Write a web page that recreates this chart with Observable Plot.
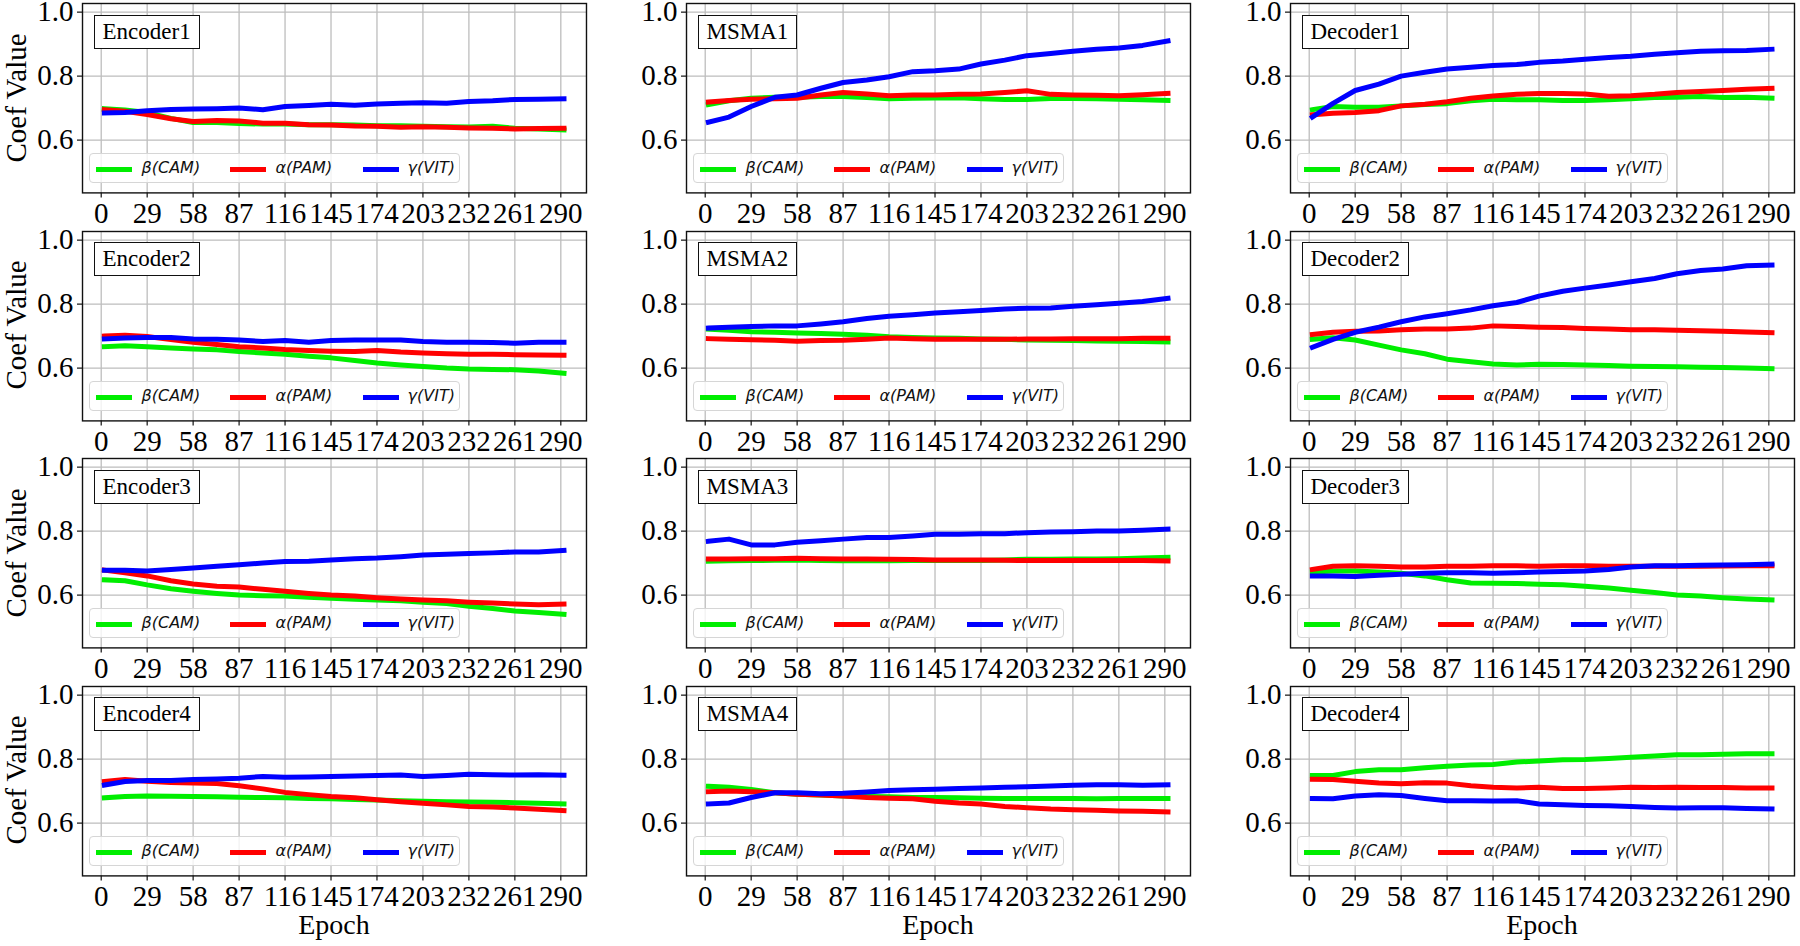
<!DOCTYPE html>
<html>
<head>
<meta charset="utf-8">
<script src="https://cdn.jsdelivr.net/npm/d3@7"></script>
<script src="https://cdn.jsdelivr.net/npm/@observablehq/plot@0.6"></script>
<style>
  html, body { margin: 0; padding: 0; background: #fff; }
  #root { position: relative; width: 1800px; height: 946px; overflow: hidden; background: #fff; }
  .panel { position: absolute; }
  .panel svg { overflow: visible; background: transparent; max-width: none; }
  .panel svg text { font-family: "Liberation Serif", "Times New Roman", serif; }
  .title-box { position: absolute; background: #fff; border: 1.3px solid #111; font-family: "Liberation Serif", "Times New Roman", serif; font-size: 23px; line-height: 28px; padding: 2px 8px; color: #000; white-space: nowrap; }
  .legend-box { position: absolute; height: 30px; width: 371px; box-sizing: border-box; background: rgba(255,255,255,0.8); border: 1px solid #d6d6d6; border-radius: 4px; }
  .sw { position: absolute; height: 5px; width: 36px; top: 13px; }
  .lt { position: absolute; top: 3px; font-family: "DejaVu Sans", sans-serif; font-style: italic; font-size: 16px; line-height: 22px; color: #111; white-space: nowrap; }
  .ylab { position: absolute; font-family: "Liberation Serif", "Times New Roman", serif; font-size: 29px; line-height: 29px; white-space: nowrap; transform: translate(-50%, -50%) rotate(-90deg); color: #000; }
  .xlab { position: absolute; font-family: "Liberation Serif", "Times New Roman", serif; font-size: 28px; line-height: 28px; white-space: nowrap; transform: translateX(-50%); color: #000; }
</style>
</head>
<body>
<div id="root"></div>
<script>
// ---- data ----
const epochs = [2, 15, 29, 44, 58, 73, 87, 102, 116, 131, 145, 160, 174, 189, 203, 218, 232, 247, 261, 276, 292];
const xTicks = [0, 29, 58, 87, 116, 145, 174, 203, 232, 261, 290];
const yTicks = [0.6, 0.8, 1.0];
const panelNames = ["Encoder1", "MSMA1", "Decoder1", "Encoder2", "MSMA2", "Decoder2", "Encoder3", "MSMA3", "Decoder3", "Encoder4", "MSMA4", "Decoder4"];
const seriesNames = ["β(CAM)", "α(PAM)", "γ(VIT)"];
const seriesColors = ["#00ee00", "#ff0000", "#0000ff"];

const encoder1Beta  = [.698,.694,.686,.668,.655,.655,.652,.650,.650,.648,.648,.647,.645,.645,.643,.642,.641,.643,.637,.635,.632];
const encoder1Alpha = [.695,.690,.680,.667,.658,.661,.660,.653,.653,.648,.647,.644,.643,.640,.642,.640,.638,.637,.635,.636,.637];
const encoder1Gamma = [.685,.686,.692,.696,.697,.698,.700,.695,.705,.708,.712,.709,.713,.715,.717,.715,.721,.723,.727,.728,.729];

const msma1Beta  = [.711,.723,.731,.734,.734,.736,.736,.733,.729,.731,.732,.732,.729,.727,.727,.730,.730,.729,.728,.726,.724];
const msma1Alpha = [.719,.724,.728,.729,.731,.741,.749,.744,.739,.741,.741,.743,.744,.749,.754,.743,.741,.740,.739,.742,.746];
const msma1Gamma = [.656,.672,.705,.734,.741,.762,.780,.788,.798,.814,.817,.822,.838,.850,.864,.871,.878,.884,.888,.896,.910];

const decoder1Beta  = [.695,.705,.703,.703,.707,.711,.714,.723,.728,.726,.726,.724,.724,.726,.729,.733,.734,.736,.733,.734,.731];
const decoder1Alpha = [.679,.684,.686,.692,.707,.712,.720,.731,.738,.743,.746,.746,.744,.737,.739,.743,.749,.752,.755,.759,.762];
const decoder1Gamma = [.672,.715,.755,.775,.800,.812,.822,.828,.833,.836,.843,.847,.853,.858,.862,.868,.873,.878,.879,.880,.884];

const encoder2Beta  = [.667,.670,.667,.663,.660,.657,.652,.647,.643,.637,.632,.624,.616,.610,.605,.600,.597,.596,.595,.591,.584];
const encoder2Alpha = [.700,.703,.699,.689,.681,.674,.667,.663,.658,.655,.653,.652,.655,.650,.647,.645,.643,.643,.642,.641,.640];
const encoder2Gamma = [.691,.694,.696,.696,.691,.690,.688,.683,.686,.681,.686,.688,.688,.688,.683,.681,.681,.680,.678,.681,.681];

const msma2Beta  = [.722,.718,.714,.712,.710,.708,.706,.703,.698,.696,.694,.693,.691,.690,.688,.687,.686,.685,.684,.683,.682];
const msma2Alpha = [.692,.690,.689,.687,.684,.686,.687,.690,.694,.692,.690,.690,.690,.690,.691,.691,.692,.692,.692,.693,.693];
const msma2Gamma = [.725,.728,.730,.732,.732,.738,.745,.755,.762,.767,.772,.776,.780,.785,.787,.788,.793,.798,.803,.808,.818];

const decoder2Beta  = [.690,.695,.688,.672,.657,.645,.628,.620,.613,.610,.612,.611,.610,.608,.606,.605,.604,.603,.602,.600,.598];
const decoder2Alpha = [.705,.712,.715,.716,.720,.722,.722,.725,.732,.730,.728,.727,.724,.722,.720,.720,.718,.717,.715,.713,.711];
const decoder2Gamma = [.665,.690,.712,.728,.745,.760,.770,.782,.795,.805,.825,.840,.850,.860,.870,.880,.895,.905,.910,.920,.922];

const encoder3Beta  = [.648,.645,.632,.620,.612,.605,.600,.598,.597,.593,.590,.587,.585,.582,.578,.574,.565,.558,.550,.546,.540];
const encoder3Alpha = [.678,.670,.660,.645,.635,.628,.625,.618,.612,.605,.600,.597,.592,.588,.585,.582,.578,.575,.572,.570,.572];
const encoder3Gamma = [.678,.678,.675,.680,.685,.690,.695,.700,.705,.706,.710,.714,.716,.720,.725,.728,.730,.732,.735,.735,.740];

const msma3Beta  = [.706,.707,.708,.709,.710,.708,.707,.707,.707,.708,.708,.708,.708,.710,.712,.712,.713,.713,.714,.716,.718];
const msma3Alpha = [.713,.713,.714,.714,.715,.714,.713,.713,.712,.711,.710,.710,.710,.709,.708,.708,.708,.708,.708,.708,.707];
const msma3Gamma = [.768,.775,.757,.757,.765,.770,.775,.780,.780,.785,.790,.790,.792,.792,.795,.797,.798,.800,.800,.803,.806];

const decoder3Beta  = [.672,.675,.675,.672,.668,.660,.648,.638,.637,.636,.634,.632,.628,.622,.615,.608,.600,.597,.592,.588,.585];
const decoder3Alpha = [.680,.690,.692,.690,.688,.688,.690,.690,.692,.692,.690,.692,.692,.690,.690,.690,.690,.690,.691,.692,.692];
const decoder3Gamma = [.660,.660,.658,.662,.665,.668,.670,.670,.668,.670,.672,.674,.675,.680,.688,.692,.692,.693,.694,.695,.697];

const encoder4Beta  = [.679,.683,.685,.684,.683,.682,.681,.680,.679,.677,.676,.674,.672,.670,.668,.667,.666,.665,.664,.662,.660];
const encoder4Alpha = [.730,.736,.731,.727,.725,.724,.717,.707,.696,.689,.683,.679,.673,.667,.662,.657,.652,.650,.647,.643,.639];
const encoder4Gamma = [.719,.730,.733,.733,.736,.738,.740,.746,.743,.744,.746,.747,.749,.750,.746,.749,.753,.751,.750,.751,.750];

const msma4Beta  = [.715,.712,.705,.695,.690,.688,.685,.683,.682,.680,.680,.679,.678,.677,.677,.677,.677,.676,.677,.677,.677];
const msma4Alpha = [.698,.700,.698,.695,.690,.688,.685,.680,.678,.676,.668,.663,.660,.652,.648,.644,.642,.640,.638,.637,.635];
const msma4Gamma = [.660,.663,.680,.695,.695,.692,.693,.697,.702,.704,.706,.708,.710,.712,.714,.716,.718,.720,.720,.718,.720];

const decoder4Beta  = [.749,.749,.761,.767,.767,.773,.778,.782,.783,.791,.794,.798,.799,.802,.806,.810,.814,.814,.815,.817,.817];
const decoder4Alpha = [.737,.736,.731,.725,.723,.726,.725,.717,.712,.710,.712,.708,.708,.710,.712,.711,.712,.711,.711,.710,.710];
const decoder4Gamma = [.677,.676,.685,.689,.686,.677,.670,.670,.669,.670,.660,.657,.655,.654,.652,.649,.647,.648,.648,.646,.644];

const panelSeries = [
  [encoder1Beta, encoder1Alpha, encoder1Gamma],
  [msma1Beta, msma1Alpha, msma1Gamma],
  [decoder1Beta, decoder1Alpha, decoder1Gamma],
  [encoder2Beta, encoder2Alpha, encoder2Gamma],
  [msma2Beta, msma2Alpha, msma2Gamma],
  [decoder2Beta, decoder2Alpha, decoder2Gamma],
  [encoder3Beta, encoder3Alpha, encoder3Gamma],
  [msma3Beta, msma3Alpha, msma3Gamma],
  [decoder3Beta, decoder3Alpha, decoder3Gamma],
  [encoder4Beta, encoder4Alpha, encoder4Gamma],
  [msma4Beta, msma4Alpha, msma4Gamma],
  [decoder4Beta, decoder4Alpha, decoder4Gamma]
];

// ---- layout ----
const colLeft = [82, 686, 1290];
const frameW = 504;
const frameH = 189.4;
const rowTop = [3.3, 230.7, 458.1, 685.5];
const ML = 80, MR = 6, MT = 12, MB = 42;
const serif = "'Liberation Serif', 'Times New Roman', serif";

const root = document.getElementById("root");

panelNames.forEach((name, p) => {
  const r = Math.floor(p / 3), c = p % 3;
  const fl = colLeft[c], ft = rowTop[r];
  const series = panelSeries[p];

  const chart = Plot.plot({
    width: ML + frameW + MR,
    height: MT + frameH + MB,
    marginLeft: ML, marginRight: MR, marginTop: MT, marginBottom: MB,
    style: { background: "transparent", overflow: "visible", fontFamily: serif, fontSize: "29px", color: "#000", maxWidth: "none" },
    x: { domain: [-11.8, 306.2] },
    y: { domain: [0.435, 1.027] },
    marks: [
      Plot.gridX(xTicks, { stroke: "#bdbdbd", strokeOpacity: 1, strokeWidth: 1.3 }),
      Plot.gridY(yTicks, { stroke: "#bdbdbd", strokeOpacity: 1, strokeWidth: 1.3 }),
      Plot.axisX(xTicks, { tickSize: 5, tickPadding: 5, label: null, tickFormat: d => String(d), fontSize: 29, fontFamily: serif, fill: "#000", stroke: "#111", strokeWidth: 1.2 }),
      Plot.axisY(yTicks, { tickSize: 5, tickPadding: 4, label: null, tickFormat: d => d.toFixed(1), fontSize: 29, fontFamily: serif, fill: "#000", stroke: "#111", strokeWidth: 1.2 }),
      ...series.map((arr, s) => Plot.line(arr, {
        x: (d, i) => epochs[i], y: d => d,
        stroke: seriesColors[s], strokeWidth: 5,
        strokeLinecap: "square", strokeLinejoin: "round"
      })),
      Plot.frame({ stroke: "#111", strokeWidth: 1.4 })
    ]
  });
  chart.setAttribute("font-family", serif);
  chart.style.overflow = "visible";
  chart.style.background = "transparent";

  const wrap = document.createElement("div");
  wrap.className = "panel";
  wrap.style.left = (fl - ML) + "px";
  wrap.style.top = (ft - MT) + "px";
  wrap.appendChild(chart);
  root.appendChild(wrap);

  // title box
  const tb = document.createElement("div");
  tb.className = "title-box";
  tb.textContent = name;
  tb.style.left = (fl + 11.5) + "px";
  tb.style.top = (ft + 11.5) + "px";
  root.appendChild(tb);

  // legend
  const lg = document.createElement("div");
  lg.className = "legend-box";
  lg.style.left = (fl + 6.5) + "px";
  lg.style.top = (ft + frameH - 9.4 - 30) + "px";
  const swX = [6, 140, 273], txX = [52, 186, 318];
  seriesNames.forEach((sn, s) => {
    const sw = document.createElement("div");
    sw.className = "sw";
    sw.style.left = swX[s] + "px";
    sw.style.background = seriesColors[s];
    lg.appendChild(sw);
    const lt = document.createElement("div");
    lt.className = "lt";
    lt.style.left = txX[s] + "px";
    lt.textContent = sn;
    lg.appendChild(lt);
  });
  root.appendChild(lg);

  if (c === 0) {
    const yl = document.createElement("div");
    yl.className = "ylab";
    yl.textContent = "Coef Value";
    yl.style.left = "16px";
    yl.style.top = (ft + frameH / 2) + "px";
    root.appendChild(yl);
  }
  if (r === 3) {
    const xl = document.createElement("div");
    xl.className = "xlab";
    xl.textContent = "Epoch";
    xl.style.left = (fl + frameW / 2) + "px";
    xl.style.top = "911px";
    root.appendChild(xl);
  }
});
</script>
</body>
</html>
